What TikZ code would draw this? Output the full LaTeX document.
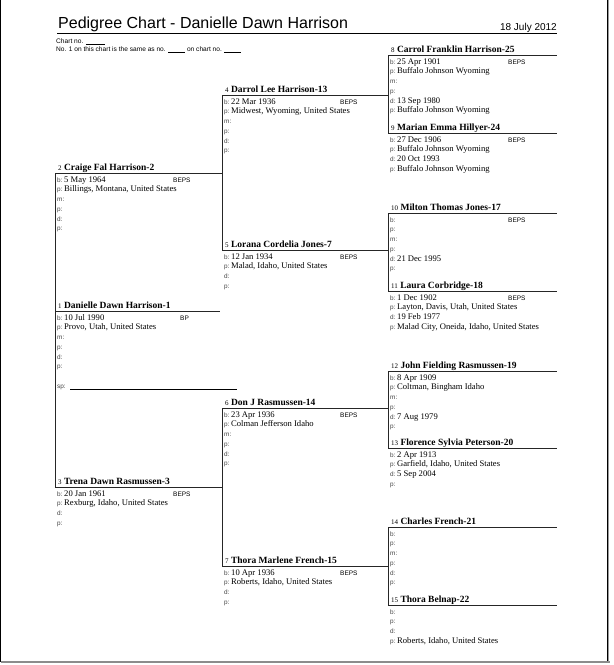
\documentclass[tikz,border=0pt]{standalone}
\usepackage{fontspec}
\setmainfont{Liberation Serif}
\setsansfont{Liberation Sans}
\newcommand\lb[1]{{\sffamily\fontsize{6.4}{7}\selectfont\color{black!75}#1}}
\newcommand\vl[1]{{\fontsize{8.6}{9}\selectfont #1}}
\tikzset{
  rule/.style={line width=0.9pt, draw=black!85},
  frame/.style={line width=1.2pt, draw=black},
  pname/.style={anchor=base west, inner sep=0pt, font=\fontsize{9.5}{10}\selectfont\bfseries},
  drow/.style={anchor=base west, inner sep=0pt},
  tag/.style={anchor=base west, inner sep=0pt, font=\sffamily\fontsize{6.5}{7}\selectfont},
  small/.style={anchor=base west, inner sep=0pt, font=\sffamily\fontsize{6.6}{7}\selectfont},
}
\newcommand\person[6]{%
  \coordinate (#1L) at (#2,#3);
  \coordinate (#1R) at (#4,#3);
  \node[pname] (#1) at ({#2+3},{#3-2.5}) {{\fontsize{7}{7}\selectfont\mdseries #5\,\,}#6};
  \draw[rule] (#1L) -- (#1R);
}
\newcommand\prows[4]{%
  \foreach \l/\v [count=\i] in {#4} {
    \node[drow] (#1d\i) at ({#2+2},{#3+9+(\i-1)*9.75}) {\lb{\l}\,\vl{\v}};
  }
}
\begin{document}
\begin{tikzpicture}[x=1pt,y=-1pt]
\useasboundingbox (0,0) rectangle (614,665);
% page frame
\coordinate (fTL) at (0.6,0);
\coordinate (fBL) at (0.6,662);
\coordinate (fTR) at (607.5,0);
\coordinate (fBR) at (607.5,662);
\draw[frame] (fTL) -- (fBL);
\draw[frame] (fTR) -- (fBR);
\draw[line width=1.5pt, draw=black!45] (fBL) -- ([xshift=2pt]fBR);
\draw[line width=1pt, draw=black!40] ([xshift=1.4pt]fTR) -- ([xshift=1.4pt]fBR);
% header
\node[anchor=base west, inner sep=0pt, font=\sffamily\fontsize{16}{18}\selectfont] (title) at (58,28) {Pedigree Chart - Danielle Dawn Harrison};
\node[anchor=base east, inner sep=0pt, font=\sffamily\fontsize{10}{12}\selectfont] (date) at (557,30) {18 July 2012};
\coordinate (hrA) at (57,33);
\coordinate (hrB) at (557,33);
\draw[line width=1pt] (hrA) -- (hrB);
\node[small] (chartno) at (56,43.5) {Chart no. \rule[-0.6pt]{19pt}{0.5pt}};
\node[small] (sameas) at (56,51.5) {No. 1 on this chart is the same as no. \rule[-0.6pt]{17pt}{0.6pt} on chart no. \rule[-0.6pt]{17pt}{0.6pt}};
% generation 1/2
\person{p1}{55}{311}{220}{1}{Danielle Dawn Harrison-1}
\prows{p1}{55}{311}{b:/10 Jul 1990, p:/{Provo, Utah, United States}, m:/, p:/, d:/, p:/}
\node[tag] (p1t) at (180,320) {BP};
\node[drow] (p1sp) at (57,388) {\lb{sp:}};
\coordinate (spA) at (70,389);
\coordinate (spB) at (237,389);
\draw[line width=0.7pt] (spA) -- (spB);
\person{p2}{55}{173}{222}{2}{Craige Fal Harrison-2}
\prows{p2}{55}{173}{b:/5 May 1964, p:/{Billings, Montana, United States}, m:/, p:/, d:/, p:/}
\node[tag] (p2t) at (173,182) {BEPS};
\person{p3}{55}{487}{222}{3}{Trena Dawn Rasmussen-3}
\prows{p3}{55}{487}{b:/20 Jan 1961, p:/{Rexburg, Idaho, United States}, d:/, p:/}
\node[tag] (p3t) at (173,496) {BEPS};
\draw[rule] (p2L) -- (p3L);
% generation 3
\person{p4}{222}{95}{388}{4}{Darrol Lee Harrison-13}
\prows{p4}{222}{95}{b:/22 Mar 1936, p:/{Midwest, Wyoming, United States}, m:/, p:/, d:/, p:/}
\node[tag] (p4t) at (340,104) {BEPS};
\person{p5}{222}{250}{388}{5}{Lorana Cordelia Jones-7}
\prows{p5}{222}{250}{b:/12 Jan 1934, p:/{Malad, Idaho, United States}, d:/, p:/}
\node[tag] (p5t) at (340,259) {BEPS};
\draw[rule] (p4L) -- (p5L);
\person{p6}{222}{408}{388}{6}{Don J Rasmussen-14}
\prows{p6}{222}{408}{b:/23 Apr 1936, p:/{Colman Jefferson Idaho}, m:/, p:/, d:/, p:/}
\node[tag] (p6t) at (340,417) {BEPS};
\person{p7}{222}{566}{388}{7}{Thora Marlene French-15}
\prows{p7}{222}{566}{b:/10 Apr 1936, p:/{Roberts, Idaho, United States}, d:/, p:/}
\node[tag] (p7t) at (340,575) {BEPS};
\draw[rule] (p6L) -- (p7L);
% generation 4
\person{p8}{388}{55}{557}{8}{Carrol Franklin Harrison-25}
\prows{p8}{388}{55}{b:/25 Apr 1901, p:/Buffalo Johnson Wyoming, m:/, p:/, d:/13 Sep 1980, p:/Buffalo Johnson Wyoming}
\node[tag] (p8t) at (508,64) {BEPS};
\person{p9}{388}{133}{557}{9}{Marian Emma Hillyer-24}
\prows{p9}{388}{133}{b:/27 Dec 1906, p:/Buffalo Johnson Wyoming, d:/20 Oct 1993, p:/Buffalo Johnson Wyoming}
\node[tag] (p9t) at (508,142) {BEPS};
\draw[rule] (p8L) -- (p9L);
\person{p10}{388}{213}{557}{10}{Milton Thomas Jones-17}
\prows{p10}{388}{213}{b:/, p:/, m:/, p:/, d:/21 Dec 1995, p:/}
\node[tag] (p10t) at (508,222) {BEPS};
\person{p11}{388}{291}{557}{11}{Laura Corbridge-18}
\prows{p11}{388}{291}{b:/1 Dec 1902, p:/{Layton, Davis, Utah, United States}, d:/19 Feb 1977, p:/{Malad City, Oneida, Idaho, United States}}
\node[tag] (p11t) at (508,300) {BEPS};
\draw[rule] (p10L) -- (p11L);
\person{p12}{388}{371}{557}{12}{John Fielding Rasmussen-19}
\prows{p12}{388}{371}{b:/8 Apr 1909, p:/{Coltman, Bingham Idaho}, m:/, p:/, d:/7 Aug 1979, p:/}
\person{p13}{388}{448}{557}{13}{Florence Sylvia Peterson-20}
\prows{p13}{388}{448}{b:/2 Apr 1913, p:/{Garfield, Idaho, United States}, d:/5 Sep 2004, p:/}
\draw[rule] (p12L) -- (p13L);
\person{p14}{388}{527}{557}{14}{Charles French-21}
\prows{p14}{388}{527}{b:/, p:/, m:/, p:/, d:/, p:/}
\person{p15}{388}{605}{557}{15}{Thora Belnap-22}
\prows{p15}{388}{605}{b:/, p:/, d:/, p:/{Roberts, Idaho, United States}}
\draw[rule] (p14L) -- (p15L);
\end{tikzpicture}
\end{document}
